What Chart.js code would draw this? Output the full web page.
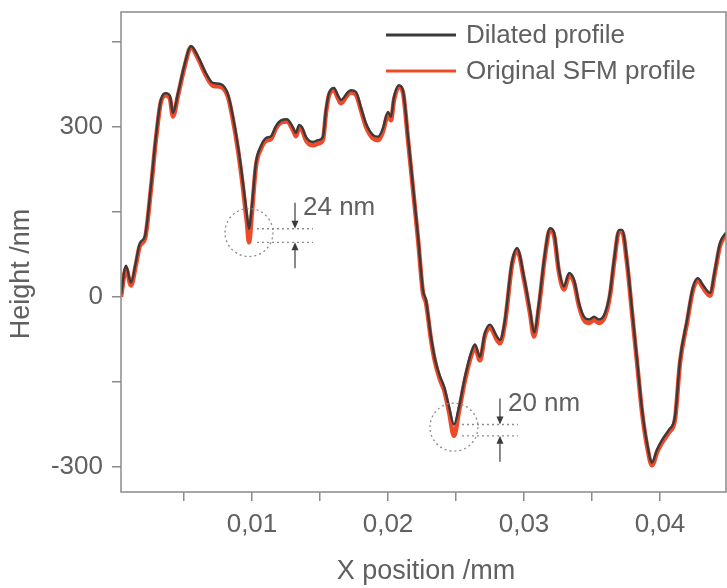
<!DOCTYPE html>
<html>
<head>
<meta charset="utf-8">
<script src="https://cdn.jsdelivr.net/npm/chart.js@4.4.1/dist/chart.umd.min.js"></script>
<style>
  html, body { margin: 0; padding: 0; background: #fff; }
  #wrap { position: relative; width: 727px; height: 588px; }
</style>
</head>
<body>
<div id="wrap"><canvas id="profile"></canvas></div>
<script>
// Scan positions along the line profile (mm)
const positions = [
    0.00037, 0.00074, 0.00110, 0.00147, 0.00176, 0.00213, 0.00257, 0.00294, 0.00331, 0.00368,
    0.00397, 0.00419, 0.00456, 0.00507, 0.00551, 0.00603, 0.00662, 0.00713, 0.00772, 0.00824,
    0.00860, 0.00897, 0.00934, 0.00963, 0.00978, 0.01000, 0.01029, 0.01066, 0.01103, 0.01140,
    0.01176, 0.01213, 0.01257, 0.01301, 0.01324, 0.01346, 0.01368, 0.01397, 0.01449, 0.01485,
    0.01522, 0.01544, 0.01566, 0.01603, 0.01632, 0.01654, 0.01706, 0.01728, 0.01765, 0.01801,
    0.01838, 0.01890, 0.01926, 0.01963, 0.02000, 0.02022, 0.02044, 0.02081, 0.02110, 0.02147,
    0.02184, 0.02221, 0.02257, 0.02279, 0.02316, 0.02346, 0.02382, 0.02412, 0.02449, 0.02485,
    0.02522, 0.02566, 0.02618, 0.02640, 0.02676, 0.02713, 0.02750, 0.02801, 0.02824, 0.02860,
    0.02912, 0.02949, 0.03000, 0.03044, 0.03074, 0.03110, 0.03154, 0.03191, 0.03221, 0.03257,
    0.03294, 0.03331, 0.03368, 0.03404, 0.03441, 0.03478, 0.03515, 0.03551, 0.03596, 0.03632,
    0.03662, 0.03699, 0.03721, 0.03757, 0.03794, 0.03831, 0.03868, 0.03904, 0.03941, 0.03978,
    0.04015, 0.04066, 0.04110, 0.04147, 0.04199, 0.04243, 0.04279, 0.04316, 0.04368, 0.04404,
    0.04441, 0.04485
];

// Heights after tip dilation (nm)
const dilatedHeights = [
    4, 55, 25, 62, 95, 107, 195, 283, 348, 359,
    354, 324, 359, 412, 442, 424, 394, 377, 375, 357,
    318, 266, 201, 144, 120, 162, 236, 266, 280, 283,
    301, 311, 313, 299, 289, 303, 299, 282, 273, 276,
    282, 329, 359, 368, 355, 347, 361, 364, 361, 334,
    306, 285, 282, 297, 326, 317, 352, 373, 364, 282,
    194, 106, 12, -5, -70, -110, -140, -158, -194, -225,
    -194, -141, -93, -84, -106, -63, -49, -70, -76, -40,
    62, 86, 35, -23, -63, -11, 77, 121, 113, 48,
    18, 42, 30, -11, -35, -40, -35, -40, -28, 7,
    65, 118, 118, 65, -23, -111, -199, -257, -292, -269,
    -252, -234, -211, -111, -40, 18, 33, 21, 7, 48,
    95, 113
];

// Heights as measured by the SFM (nm)
const originalHeights = [
    0, 50, 20, 57, 90, 102, 190, 278, 344, 355,
    349, 318, 355, 408, 440, 420, 390, 372, 370, 352,
    312, 259, 192, 130, 96, 150, 230, 261, 275, 278,
    297, 307, 309, 294, 283, 298, 294, 276, 267, 270,
    277, 324, 355, 364, 350, 341, 357, 360, 356, 329,
    300, 279, 276, 291, 321, 311, 347, 370, 360, 277,
    189, 101, 7, -10, -75, -115, -146, -164, -203, -245,
    -202, -147, -99, -90, -112, -68, -54, -76, -82, -46,
    57, 82, 30, -29, -70, -17, 72, 118, 108, 43,
    13, 37, 25, -16, -41, -46, -41, -46, -34, 2,
    60, 115, 115, 60, -28, -116, -204, -262, -297, -274,
    -257, -239, -216, -116, -45, 13, 29, 16, 2, 43,
    90, 110
];

const seriesLabels = ['Dilated profile', 'Original SFM profile'];
const yTickLabels = [-300, 0, 300];
const xTickLabels = [0.01, 0.02, 0.03, 0.04];

// Narrow valleys the tip cannot reach, with the depth it misses (nm)
const valleyPositions = [0.00978, 0.02485];
const valleyDepths = [24, 20];

const FONT = "'Liberation Sans', Arial, Helvetica, sans-serif";
const TEXT_COLOR = '#606060';
const AXIS_COLOR = '#8a8a8a';

Chart.defaults.font.family = FONT;
Chart.defaults.color = TEXT_COLOR;

function toPoints(heights) {
    return positions.map((x, i) => ({ x: x, y: heights[i] }));
}

// Frame around the plot area
const framePlugin = {
    id: 'frame',
    afterDraw(chart) {
        const { ctx, chartArea: a } = chart;
        ctx.save();
        ctx.strokeStyle = AXIS_COLOR;
        ctx.lineWidth = 1.5;
        ctx.strokeRect(a.left, a.top, a.right - a.left, a.bottom - a.top);
        ctx.restore();
    }
};

// Axis titles placed by hand
const axisTitlePlugin = {
    id: 'axisTitles',
    afterDraw(chart) {
        const ctx = chart.ctx;
        ctx.save();
        ctx.fillStyle = TEXT_COLOR;
        ctx.font = '27px ' + FONT;
        ctx.textAlign = 'center';
        ctx.textBaseline = 'middle';
        ctx.fillText('X position /mm', 426, 572);
        ctx.translate(22, 274);
        ctx.rotate(-Math.PI / 2);
        ctx.fillText('Height /nm', 0, 0);
        ctx.restore();
    }
};

// Legend inside the top right corner
const insideLegendPlugin = {
    id: 'insideLegend',
    afterDraw(chart) {
        const ctx = chart.ctx;
        ctx.save();
        ctx.font = '26px ' + FONT;
        ctx.textBaseline = 'middle';
        chart.data.datasets.forEach((ds, i) => {
            const y = 35 + i * 36;
            ctx.strokeStyle = ds.borderColor;
            ctx.lineWidth = 3;
            ctx.beginPath();
            ctx.moveTo(386, y);
            ctx.lineTo(456, y);
            ctx.stroke();
            ctx.fillStyle = TEXT_COLOR;
            ctx.fillText(ds.label, 466, y + 1);
        });
        ctx.restore();
    }
};

function arrowHead(ctx, x, y, dir) {
    ctx.beginPath();
    ctx.moveTo(x, y);
    ctx.lineTo(x - 3.5, y - dir * 8);
    ctx.lineTo(x + 3.5, y - dir * 8);
    ctx.closePath();
    ctx.fill();
}

// Dotted circles, guide lines and depth arrows at the valleys
const valleyPlugin = {
    id: 'valleys',
    afterDatasetsDraw(chart) {
        const { ctx, scales: { x, y } } = chart;
        ctx.save();
        valleyPositions.forEach((pos, k) => {
            const idx = positions.indexOf(pos);
            const xp = x.getPixelForValue(pos);
            const yTop = y.getPixelForValue(dilatedHeights[idx]);
            const yBot = y.getPixelForValue(originalHeights[idx]);
            const cy = (yTop + yBot) / 2 - 3;
            const ax = xp + 46;

            ctx.strokeStyle = '#8c8c8c';
            ctx.lineWidth = 1.3;
            ctx.setLineDash([2, 3]);
            ctx.beginPath();
            ctx.arc(xp, cy, 24, 0, Math.PI * 2);
            ctx.stroke();
            ctx.beginPath();
            ctx.moveTo(xp + 8, yTop);
            ctx.lineTo(xp + 64, yTop);
            ctx.moveTo(xp + 8, yBot);
            ctx.lineTo(xp + 64, yBot);
            ctx.stroke();

            ctx.setLineDash([]);
            ctx.strokeStyle = '#3c3c3c';
            ctx.fillStyle = '#3c3c3c';
            ctx.lineWidth = 1.2;
            ctx.beginPath();
            ctx.moveTo(ax, yTop - 26);
            ctx.lineTo(ax, yTop - 4);
            ctx.moveTo(ax, yBot + 26);
            ctx.lineTo(ax, yBot + 4);
            ctx.stroke();
            arrowHead(ctx, ax, yTop, 1);
            arrowHead(ctx, ax, yBot, -1);

            ctx.fillStyle = TEXT_COLOR;
            ctx.font = '26px ' + FONT;
            ctx.textAlign = 'left';
            ctx.textBaseline = 'middle';
            ctx.fillText(valleyDepths[k] + ' nm', ax + 8, yTop - 21);
        });
        ctx.restore();
    }
};

new Chart(document.getElementById('profile'), {
    type: 'line',
    data: {
        datasets: [
            {
                label: seriesLabels[0],
                data: toPoints(dilatedHeights),
                borderColor: '#3a3a3a',
                borderWidth: 2.4,
                pointRadius: 0,
                cubicInterpolationMode: 'monotone'
            },
            {
                label: seriesLabels[1],
                data: toPoints(originalHeights),
                borderColor: '#ee4a2a',
                borderWidth: 4.5,
                pointRadius: 0,
                cubicInterpolationMode: 'monotone'
            }
        ]
    },
    options: {
        responsive: true,
        maintainAspectRatio: false,
        animation: false,
        layout: { padding: { top: 12, right: 1, left: 0, bottom: 0 } },
        plugins: {
            legend: { display: false },
            tooltip: { enabled: false }
        },
        scales: {
            x: {
                type: 'linear',
                min: 0.00037,
                max: 0.04485,
                border: { display: false },
                grid: { drawOnChartArea: false, drawTicks: true, tickLength: 9, color: AXIS_COLOR, lineWidth: 1.5 },
                ticks: {
                    stepSize: 0.005,
                    includeBounds: false,
                    autoSkip: false,
                    maxRotation: 0,
                    padding: 8,
                    font: { size: 26 },
                    callback: function (value) {
                        const hit = xTickLabels.find(t => Math.abs(t - value) < 1e-6);
                        return hit === undefined ? '' : hit.toFixed(2).replace('.', ',');
                    }
                },
                afterFit: function (scale) {
                    scale.height = 96;
                    scale.paddingLeft = 0;
                    scale.paddingRight = 0;
                }
            },
            y: {
                min: -344,
                max: 502,
                border: { display: false },
                grid: { drawOnChartArea: false, drawTicks: true, tickLength: 9, color: AXIS_COLOR, lineWidth: 1.5 },
                ticks: {
                    stepSize: 150,
                    includeBounds: false,
                    autoSkip: false,
                    padding: 9,
                    font: { size: 26 },
                    callback: function (value) {
                        return yTickLabels.includes(value) ? String(value) : '';
                    }
                },
                afterFit: function (scale) {
                    scale.width = 121;
                    scale.paddingTop = 0;
                    scale.paddingBottom = 0;
                }
            }
        }
    },
    plugins: [framePlugin, axisTitlePlugin, insideLegendPlugin, valleyPlugin]
});
</script>
</body>
</html>
